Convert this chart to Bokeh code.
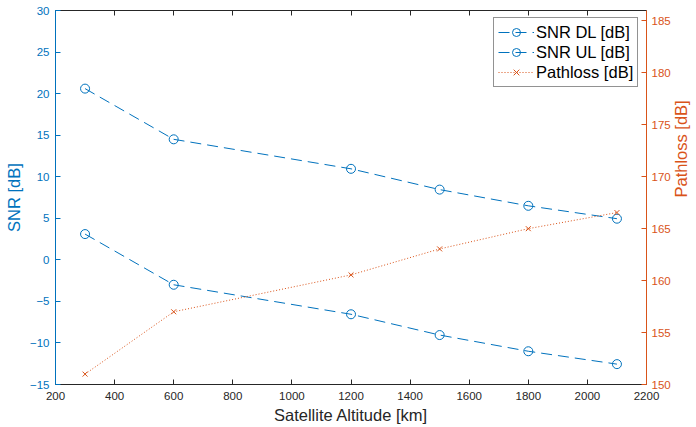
import math
from bokeh.plotting import figure
from bokeh.models import Range1d, LinearAxis, FixedTicker, Legend
from bokeh.embed import file_html
from bokeh.resources import INLINE

altitude = [300, 600, 1200, 1500, 1800, 2100]
snr_dl = [20.6, 14.5, 10.95, 8.45, 6.5, 4.95]
snr_ul = [3.1, -3.0, -6.55, -9.05, -11.0, -12.55]
pathloss = [151.0, 157.0, 160.55, 163.05, 165.0, 166.55]

x_ticks = list(range(200, 2201, 200))
left_ticks = list(range(-15, 31, 5))
right_ticks = list(range(150, 186, 5))

BLUE = "#0072BD"
ORANGE = "#D95319"
DARK = "#262626"
FONT = "Liberation Sans"

p = figure(frame_width=591, frame_height=374, output_backend="svg", toolbar_location=None,
           x_range=Range1d(200, 2200), y_range=Range1d(-15, 30),
           min_border_left=55, min_border_right=50, min_border_top=10, min_border_bottom=43)
p.extra_y_ranges = {"pl": Range1d(150, 186)}
p.grid.visible = False
p.outline_line_color = None
p.background_fill_color = "white"
p.border_fill_color = "white"

def style(ax, color, ticks):
    ax.ticker = FixedTicker(ticks=ticks)
    ax.axis_line_color = color
    ax.major_tick_line_color = color
    ax.major_tick_in = 5
    ax.major_tick_out = 0
    ax.minor_tick_line_color = None
    ax.major_label_text_color = color
    ax.major_label_text_font = FONT
    ax.major_label_text_font_size = "11.5px"
    ax.axis_label_text_color = color
    ax.axis_label_text_font = FONT
    ax.axis_label_text_font_size = "16.5px"
    ax.axis_label_text_font_style = "normal"

xa = p.xaxis[0]
style(xa, DARK, x_ticks)
xa.axis_label = "Satellite Altitude [km]"
xa.major_label_standoff = 7
xa.axis_label_standoff = 3

ya = p.yaxis[0]
style(ya, BLUE, left_ticks)
ya.axis_label = "SNR [dB]"
ya.major_label_standoff = 6
ya.axis_label_standoff = 4

ra = LinearAxis(y_range_name="pl")
style(ra, ORANGE, right_ticks)
ra.axis_label = "Pathloss [dB]"
ra.major_label_standoff = 5
ra.axis_label_standoff = 7
ra.axis_label_orientation = math.pi / 2
p.add_layout(ra, "right")

ta = LinearAxis()
style(ta, DARK, x_ticks)
ta.major_label_text_font_size = "1px"
ta.major_label_text_color = None
ta.major_label_standoff = 0
p.add_layout(ta, "above")

l1 = p.line(altitude, snr_dl, line_color=BLUE, line_width=1, line_dash="11 6")
s1 = p.scatter(altitude, snr_dl, marker="circle", size=9, line_color=BLUE, fill_color=None, line_width=1)
l2 = p.line(altitude, snr_ul, line_color=BLUE, line_width=1, line_dash="11 6")
s2 = p.scatter(altitude, snr_ul, marker="circle", size=9, line_color=BLUE, fill_color=None, line_width=1)
l3 = p.line(altitude, pathloss, line_color=ORANGE, line_width=1, line_dash="1 2", y_range_name="pl")
s3 = p.scatter(altitude, pathloss, marker="x", size=7, line_color=ORANGE, line_width=1, y_range_name="pl")

legend = Legend(items=[("SNR DL [dB]", [l1, s1]), ("SNR UL [dB]", [l2, s2]), ("Pathloss [dB]", [l3, s3])],
                location=(438, 297))
legend.label_text_font = FONT
legend.label_text_font_size = "16.5px"
legend.label_text_color = "black"
legend.border_line_color = DARK
legend.border_line_width = 1
legend.background_fill_color = "white"
legend.background_fill_alpha = 1
legend.padding = 4
legend.spacing = 0
legend.margin = 0
legend.glyph_width = 36
legend.glyph_height = 20
legend.label_height = 20
legend.label_standoff = 2
p.add_layout(legend, "center")

open("out.html", "w").write(file_html(p, INLINE))
